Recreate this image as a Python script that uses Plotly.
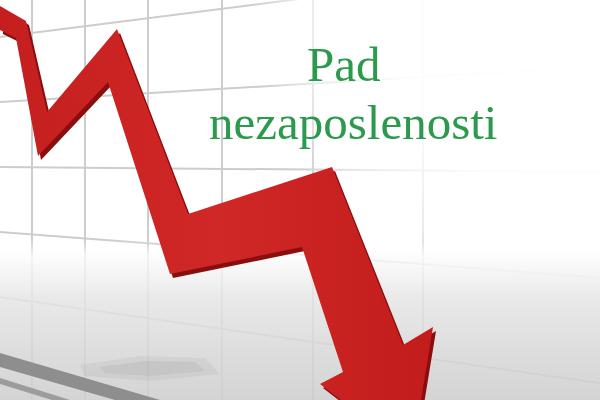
import plotly.graph_objects as go

# ---- data (picture coordinates: x 0..600 left->right, y 0..400 top->bottom) ----
title_lines = ["Pad", "nezaposlenosti"]
title_x = [344, 353]
title_y = [64, 122]

# falling trend arrow outline (upper edge, head, then lower edge back)
arrow_x = [0, 26, 47, 117, 188, 332, 403, 433, 412, 320, 343, 302, 170, 108, 38, 16, 0]
arrow_y = [6, 21, 112, 29, 214, 167, 345, 327, 455, 384, 372, 247, 274, 82, 156, 38, 30]

# perspective grid
grid_cols = [32, 85, 148, 222, 313, 423]
grid_rows = [37, 102, 167, 232, 297]
vanish_x, vanish_y = -960, 159

# floor shadow stripes
band_x = [0, 160, 115, 0]
band_y = [353, 400, 400, 367]
thin_x = [0, 70, 52, 0]
thin_y = [378, 400, 400, 384]
blur_x = [80, 140, 205, 220, 150, 85]
blur_y = [365, 356, 358, 374, 381, 376]
blur_core_x = [100, 145, 195, 205, 150, 105]
blur_core_y = [367, 361, 362, 371, 376, 373]

fig = go.Figure()

# grid lines
for gx in grid_cols:
    fig.add_trace(go.Scatter(x=[gx, gx], y=[0, 400], mode="lines",
                             line=dict(color="#cdcdcd", width=2), hoverinfo="skip"))
for gy in grid_rows:
    ys = [vanish_y + (gy - vanish_y) * (xx - vanish_x) / (0 - vanish_x) for xx in (0, 600)]
    fig.add_trace(go.Scatter(x=[0, 600], y=ys, mode="lines",
                             line=dict(color="#cdcdcd", width=2), hoverinfo="skip"))

# white radial fade from the upper right
fig.add_trace(go.Scatter(
    x=[250, 950, 950, 250, 250], y=[-330, -330, 330, 330, -330], mode="none",
    fill="toself", hoverinfo="skip",
    fillgradient=dict(type="radial",
                      colorscale=[[0, "rgba(255,255,255,1)"], [0.6, "rgba(255,255,255,0.95)"],
                                  [0.85, "rgba(255,255,255,0.6)"], [1, "rgba(255,255,255,0)"]])))

# floor gradient (semi-transparent so grid shows faintly)
fig.add_trace(go.Scatter(
    x=[0, 600, 600, 0, 0], y=[240, 240, 400, 400, 240], mode="none",
    fill="toself", hoverinfo="skip",
    fillgradient=dict(type="vertical", start=240, stop=400,
                      colorscale=[[0, "rgba(255,255,255,0.0)"], [0.1, "rgba(252,252,252,0.8)"],
                                  [0.35, "rgba(230,230,230,0.85)"], [0.7, "rgba(215,215,215,0.85)"],
                                  [1, "rgba(206,206,206,0.88)"]])))

# shadows on the floor
fig.add_trace(go.Scatter(x=blur_x + blur_x[:1], y=blur_y + blur_y[:1], mode="none", fill="toself",
                         fillcolor="rgba(140,140,140,0.12)", hoverinfo="skip"))
fig.add_trace(go.Scatter(x=blur_core_x + blur_core_x[:1], y=blur_core_y + blur_core_y[:1],
                         mode="none", fill="toself",
                         fillcolor="rgba(140,140,140,0.15)", hoverinfo="skip"))
fig.add_trace(go.Scatter(x=band_x + band_x[:1], y=band_y + band_y[:1], mode="none", fill="toself",
                         fillcolor="#8e8e8e", hoverinfo="skip"))
fig.add_trace(go.Scatter(x=thin_x + thin_x[:1], y=thin_y + thin_y[:1], mode="none", fill="toself",
                         fillcolor="#9c9c9c", hoverinfo="skip"))

# arrow: dark extruded side then red face
fig.add_trace(go.Scatter(x=[v + 3 for v in arrow_x], y=[v + 4 for v in arrow_y],
                         mode="none", fill="toself", fillcolor="#8a0e0e", hoverinfo="skip"))
fig.add_trace(go.Scatter(x=arrow_x, y=arrow_y, mode="none", fill="toself", hoverinfo="skip",
                         fillgradient=dict(type="horizontal",
                                           colorscale=[[0, "#c41e1e"], [0.5, "#d02826"], [1, "#c21c1c"]])))

for txt, tx, ty in zip(title_lines, title_x, title_y):
    fig.add_annotation(x=tx, y=ty, text=txt, showarrow=False, xanchor="center", yanchor="middle",
                       font=dict(family="Liberation Serif", size=49, color="#2b9a4c"))

fig.update_layout(
    width=600, height=400, margin=dict(l=0, r=0, t=0, b=0),
    paper_bgcolor="white", plot_bgcolor="white", showlegend=False,
    xaxis=dict(range=[0, 600], visible=False, fixedrange=True),
    yaxis=dict(range=[400, 0], visible=False, fixedrange=True),
)
fig.write_html("out.html", config={"displayModeBar": False},
               post_script="document.body.style.margin='0';document.body.style.overflow='hidden';")
